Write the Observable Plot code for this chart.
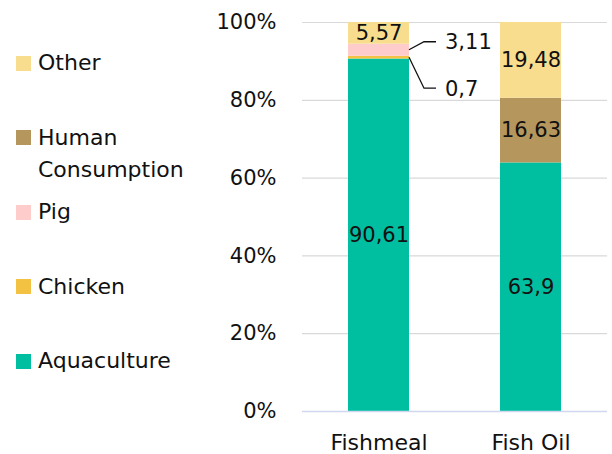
<!DOCTYPE html>
<html>
<head>
<meta charset="utf-8">
<script src="https://cdn.jsdelivr.net/npm/d3@7"></script>
<script src="https://cdn.jsdelivr.net/npm/@observablehq/plot@0.6"></script>
<style>
  html, body { margin: 0; padding: 0; background: #fff; }
  #wrap { position: relative; width: 612px; height: 454px; font-family: "DejaVu Sans", sans-serif; }
  #legend { position: absolute; left: 0; top: 0; }
  .item { position: absolute; left: 16px; display: flex; align-items: flex-start; font-size: 22px; line-height: 32px; color: #111; }
  .sw { width: 15px; height: 15px; margin-top: 8.5px; margin-right: 7px; flex: none; }
  .lbl { width: 175px; }
</style>
</head>
<body>
<div id="wrap"><div id="legend"></div></div>
<script>
const categories = ["Fishmeal", "Fish Oil"];
const series = ["Aquaculture", "Chicken", "Pig", "Human Consumption", "Other"];
const colors = ["#00BFA0", "#F4C242", "#FFCCCC", "#B5965C", "#F8DD8E"];
const fishmealValues = [90.61, 0.7, 3.11, 0, 5.57];
const fishOilValues = [63.9, 0, 0, 16.63, 19.48];
const yTicks = [0, 20, 40, 60, 80, 100];
const legendOrder = ["Other", "Human Consumption", "Pig", "Chicken", "Aquaculture"];
const calloutSeries = ["Pig", "Chicken"]; // Fishmeal small segments labelled outside

const fmt = v => String(v).replace(".", ",");

const data = [];
[fishmealValues, fishOilValues].forEach((vals, ci) => {
  vals.forEach((v, si) => {
    if (v > 0) data.push({category: categories[ci], series: series[si], value: v});
  });
});

const font = "'DejaVu Sans', sans-serif";
const fs = 21;

const plot = Plot.plot({
  width: 612,
  height: 454,
  marginLeft: 302,
  marginRight: 5,
  marginTop: 22,
  marginBottom: 43,
  style: {fontFamily: font, fontSize: fs + "px", color: "#111", background: "transparent"},
  x: {domain: categories, paddingInner: 0.6, paddingOuter: 0.3, label: null, tickSize: 0, tickPadding: 23},
  y: {domain: [0, 100], ticks: yTicks, tickFormat: d => d + "%", label: null, tickSize: 0, tickPadding: 26},
  color: {domain: series, range: colors},
  marks: [
    Plot.ruleY(yTicks.filter(t => t > 0), {stroke: "#D9D9D9", strokeWidth: 1.2}),
    Plot.barY(data, {x: "category", y: "value", fill: "series", order: series}),
    Plot.ruleY([0], {stroke: "#D0D8F0", strokeWidth: 1.5}),
    Plot.text(data, Plot.stackY({
      x: "category", y: "value", z: "series", order: series,
      text: d => (d.category === "Fishmeal" && calloutSeries.includes(d.series)) ? "" : fmt(d.value),
      fill: "#111", fontSize: fs
    }))
  ]
});

document.getElementById("wrap").appendChild(plot);
plot.style.position = "absolute";
plot.style.left = "0px";
plot.style.top = "0px";
d3.select(plot).selectAll("[aria-label='x-axis tick label'] text").style("font-size", "22px");

// Callout leaders for small Fishmeal segments, placed with the plot's own scales
const xs = plot.scale("x"), ys = plot.scale("y");
const barRight = xs.apply("Fishmeal") + xs.bandwidth;
const fm = data.filter(d => d.category === "Fishmeal");
let cum = 0;
const mids = {};
series.forEach(s => {
  const d = fm.find(e => e.series === s);
  if (d) { mids[s] = cum + d.value / 2; cum += d.value; }
});
const offsets = {Pig: -8, Chicken: 31};
const g = d3.select(plot).append("g");
calloutSeries.forEach(s => {
  const d = fm.find(e => e.series === s);
  const y0 = ys.apply(mids[s]);
  const y1 = y0 + offsets[s];
  g.append("path")
    .attr("d", `M${barRight},${y0}L${barRight + 15},${y1}H${barRight + 27}`)
    .attr("fill", "none").attr("stroke", "#111").attr("stroke-width", 1.3);
  g.append("text")
    .attr("x", barRight + 36).attr("y", y1)
    .attr("dy", "0.35em").attr("fill", "#111")
    .attr("text-anchor", "start")
    .style("font-size", fs + "px").style("font-family", font)
    .text(fmt(d.value));
});

// Legend
const legend = document.getElementById("legend");
legendOrder.forEach((s, i) => {
  const item = document.createElement("div");
  item.className = "item";
  item.style.top = (47 + i * 74.5) + "px";
  const sw = document.createElement("div");
  sw.className = "sw";
  sw.style.background = colors[series.indexOf(s)];
  const lbl = document.createElement("div");
  lbl.className = "lbl";
  lbl.textContent = s;
  item.appendChild(sw);
  item.appendChild(lbl);
  legend.appendChild(item);
});
</script>
</body>
</html>
